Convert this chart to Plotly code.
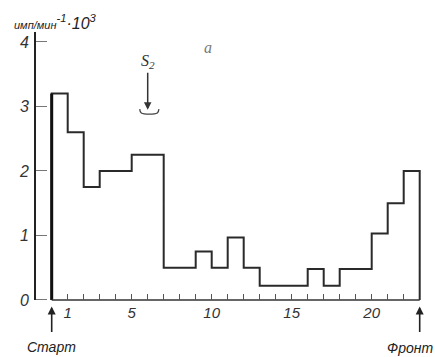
import plotly.graph_objects as go

# ---- data ----
bin_edges = [0, 1, 2, 3, 5, 7, 9, 10, 11, 12, 13, 16, 17, 18, 20, 21, 22, 23]
bin_values = [3.2, 2.6, 1.75, 2.0, 2.25, 0.5, 0.75, 0.5, 0.97, 0.5,
              0.22, 0.48, 0.22, 0.48, 1.03, 1.5, 2.0]
x_ticks = list(range(1, 23))
x_tick_labels = {1: "1", 5: "5", 10: "10", 15: "15", 20: "20"}
y_ticks = [0, 1, 2, 3, 4]
y_tick_labels = ["0", "1", "2", "3", "4"]
start_pos = 0
front_pos = 23
s2_pos = 6

W, H = 435, 357
X_RANGE = [-3.231, 23.956]
Y_RANGE = [-0.884, 4.651]

def ypaper(v):
    return (v - Y_RANGE[0]) / (Y_RANGE[1] - Y_RANGE[0])

# step outline
sx = [bin_edges[0]] + bin_edges[:-1] + [bin_edges[-1], bin_edges[-1]]
sy = [0] + bin_values + [bin_values[-1], 0]

fig = go.Figure()
fig.add_trace(go.Scatter(x=sx, y=sy, mode="lines", line_shape="hv",
                         line=dict(color="#2a2a2a", width=2), hoverinfo="skip"))
# thicker start edge
fig.add_trace(go.Scatter(x=[start_pos, start_pos], y=[0, bin_values[0]], mode="lines",
                         line=dict(color="#111", width=3), hoverinfo="skip"))
# baseline
fig.add_trace(go.Scatter(x=[start_pos, front_pos], y=[0, 0], mode="lines",
                         line=dict(color="#333", width=1.6), hoverinfo="skip"))
# S2 bracket
fig.add_trace(go.Scatter(x=[s2_pos - 0.5, s2_pos - 0.4, s2_pos + 0.6, s2_pos + 0.7],
                         y=[2.96, 2.9, 2.9, 2.96], mode="lines", line_shape="spline",
                         line=dict(color="#444", width=1.3), hoverinfo="skip"))

font_it = dict(family="Liberation Sans", style="italic", color="#333")

fig.update_layout(
    width=W, height=H, margin=dict(l=0, r=0, t=0, b=0, pad=0),
    paper_bgcolor="white", plot_bgcolor="white", showlegend=False,
    xaxis=dict(range=X_RANGE, anchor="free", position=ypaper(0), showline=False,
               showgrid=False, zeroline=False, ticks="inside", ticklen=6,
               tickwidth=1.3, tickcolor="#555", tickvals=x_ticks,
               ticktext=[x_tick_labels.get(t, "") for t in x_ticks],
               tickfont=dict(size=15, **font_it), ticklabelstandoff=2, automargin=False),
    yaxis=dict(range=Y_RANGE, anchor="free", position=35 / W, showline=False,
               showgrid=False, zeroline=False, ticks="inside", ticklen=11,
               tickwidth=1.3, tickcolor="#777", tickvals=y_ticks, ticktext=y_tick_labels,
               tickfont=dict(size=16, **font_it), ticklabelstandoff=6, automargin=False),
)

# y axis line
fig.add_shape(type="line", xref="paper", yref="y", x0=35 / W, x1=35 / W,
              y0=0, y1=4.155, line=dict(color="#222", width=2))

ann = []
ann.append(dict(xref="paper", yref="paper", x=12 / W, y=1 - 22 / H, xanchor="left",
                yanchor="middle", showarrow=False,
                text="<span style='font-size:11px'>имп/мин</span><sup>-1</sup>·10<sup>3</sup>",
                font=dict(size=16, family="Liberation Sans", style="italic", color="#222")))
ann.append(dict(xref="paper", yref="paper", x=208 / W, y=1 - 37 / H, showarrow=False,
                text="a", font=dict(size=16, family="Liberation Serif", style="italic",
                                    color="#777")))
# S2 arrow
ann.append(dict(x=s2_pos, y=2.95, xref="x", yref="y", text="S<sub>2</sub>",
                showarrow=True, ax=0, ay=-48, arrowhead=2, arrowsize=1, arrowwidth=1.5,
                arrowcolor="#333",
                font=dict(size=16, family="Liberation Serif", style="italic", color="#333")))
# start / front arrows
for pos in (start_pos, front_pos):
    ann.append(dict(x=pos, y=-0.1, xref="x", yref="y", text="", showarrow=True,
                    ax=0, ay=27, arrowhead=2, arrowsize=1, arrowwidth=1.6,
                    arrowcolor="#222"))
ann.append(dict(x=start_pos, y=-0.73, xref="x", yref="y", text="Старт", showarrow=False,
                xanchor="center", font=dict(size=14, **{**font_it, "color": "#222"})))
ann.append(dict(xref="paper", yref="y", x=1.0, y=-0.74, text="Фронт", showarrow=False,
                xanchor="right", font=dict(size=14, **{**font_it, "color": "#222"})))
fig.update_layout(annotations=ann)

fig.write_html("out.html", config={"displayModeBar": False},
               post_script="document.body.style.margin='0px';document.body.style.overflow='hidden';")
